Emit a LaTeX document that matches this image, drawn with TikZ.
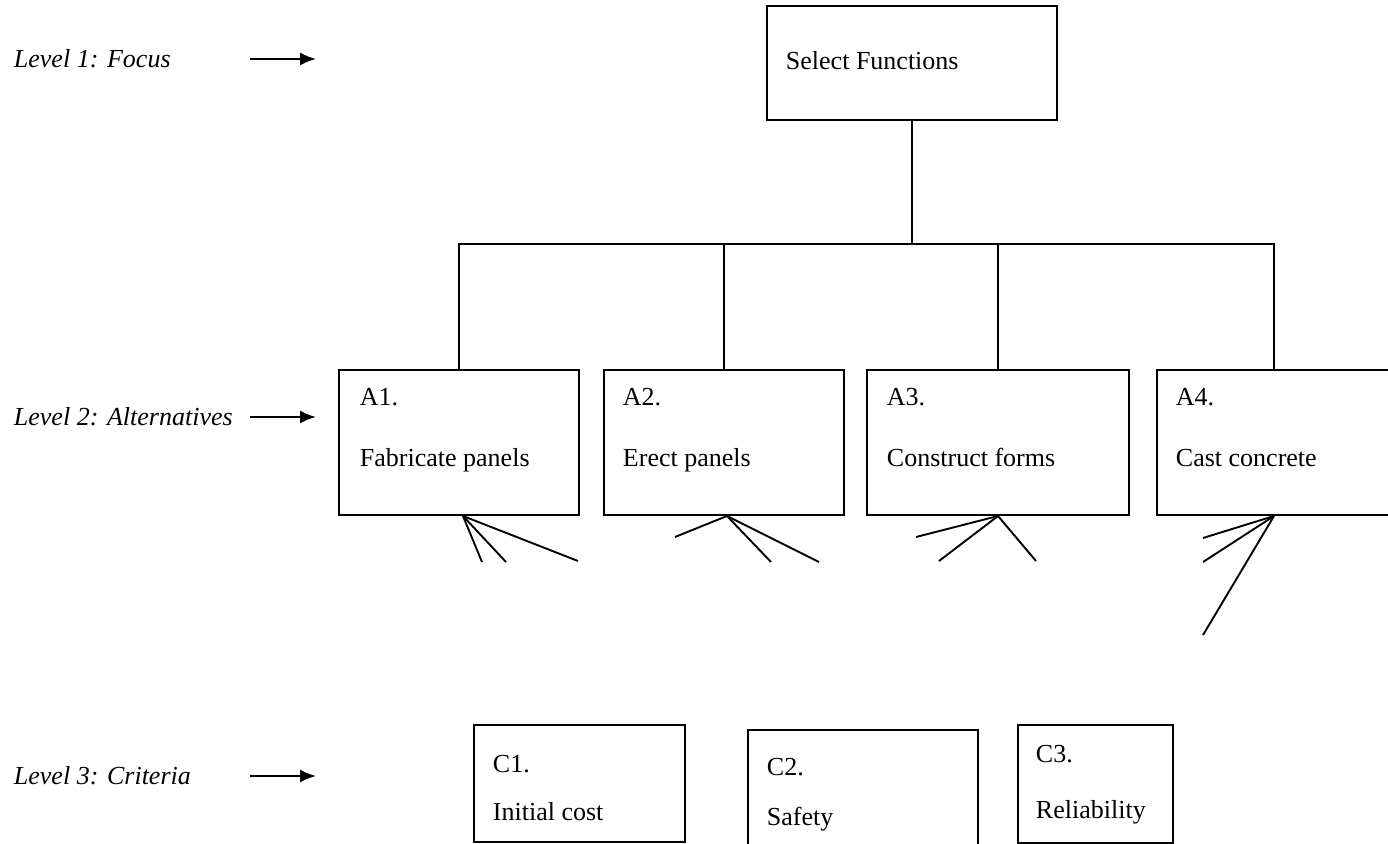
\documentclass[tikz,border=0pt]{standalone}
\usepackage{fontspec}
\setmainfont{Liberation Serif}
\usetikzlibrary{arrows.meta}
\begin{document}
\begin{tikzpicture}[x=1pt,y=-1pt,
  line width=1.9pt,
  box/.style={draw, line width=2pt, anchor=north west, inner sep=0pt, minimum width=#1},
  box/.default=240pt,
  txt/.style={anchor=base west, inner sep=0pt, font=\fontsize{26}{30}\selectfont},
  lvl/.style={anchor=base west, inner sep=0pt, font=\fontsize{26}{30}\selectfont\itshape},
  pointer/.style={line width=2pt, -{Latex[length=16pt,width=13pt]}}]
\path[use as bounding box, clip] (0,0) rectangle (1388,843);

% level captions with their arrows
\node[lvl] (l1) at (13,67) {Level 1: Focus};
\node[lvl] (l2) at (13,425) {Level 2: Alternatives};
\node[lvl] (l3) at (13,784) {Level 3: Criteria};
\coordinate (p1s) at (250,59);  \coordinate (p1e) at (316,59);
\coordinate (p2s) at (250,417); \coordinate (p2e) at (316,417);
\coordinate (p3s) at (250,776); \coordinate (p3e) at (316,776);
\draw[pointer] (p1s) -- (p1e);
\draw[pointer] (p2s) -- (p2e);
\draw[pointer] (p3s) -- (p3e);

% focus
\node[box=290pt, minimum height=114pt] (sf) at (766,5) {};
\node[txt] (sft) at (785,70) {Select Functions};

% alternatives
\node[box=240pt, minimum height=145pt] (a1) at (338,369) {};
\node[box=240pt, minimum height=145pt] (a2) at (603,369) {};
\node[box=262pt, minimum height=145pt] (a3) at (866,369) {};
\node[box=234pt, minimum height=145pt] (a4) at (1156,369) {};
\node[txt] (a1n) at (359,405) {A1.};
\node[txt] (a1t) at (359,466) {Fabricate panels};
\node[txt] (a2n) at (622,405) {A2.};
\node[txt] (a2t) at (622,466) {Erect panels};
\node[txt] (a3n) at (886,405) {A3.};
\node[txt] (a3t) at (886,466) {Construct forms};
\node[txt] (a4n) at (1175,405) {A4.};
\node[txt] (a4t) at (1175,466) {Cast concrete};

% criteria
\node[box=211pt, minimum height=117pt] (c1) at (473,724) {};
\node[box=230pt, minimum height=130pt] (c2) at (747,729) {};
\node[box=155pt, minimum height=118pt] (c3) at (1017,724) {};
\node[txt] (c1n) at (492,772) {C1.};
\node[txt] (c1t) at (492,820) {Initial cost};
\node[txt] (c2n) at (766,775) {C2.};
\node[txt] (c2t) at (766,825) {Safety};
\node[txt] (c3n) at (1035,762) {C3.};
\node[txt] (c3t) at (1035,818) {Reliability};

% tree from the focus to the alternatives
\coordinate (bus) at (0,244);
\draw (sf.south) -- (sf.south |- bus);
\draw (a1.north) -- (a1.north |- bus) -- (a4.north |- bus) -- (a4.north);
\draw (a2.north) -- (a2.north |- bus);
\draw (a3.north) -- (a3.north |- bus);

% fans of links below the alternatives
\coordinate (f1a) at (482,562); \coordinate (f1b) at (506,562); \coordinate (f1c) at (578,561);
\coordinate (f2a) at (675,537); \coordinate (f2b) at (771,562); \coordinate (f2c) at (819,562);
\coordinate (f3a) at (916,537); \coordinate (f3b) at (939,561); \coordinate (f3c) at (1036,561);
\coordinate (f4a) at (1203,538); \coordinate (f4b) at (1203,562); \coordinate (f4c) at (1203,635);
\foreach \e in {f1a,f1b,f1c} \draw ([xshift=4pt]a1.south) -- (\e);
\foreach \e in {f2a,f2b,f2c} \draw ([xshift=3pt]a2.south) -- (\e);
\foreach \e in {f3a,f3b,f3c} \draw (a3.south) -- (\e);
\foreach \e in {f4a,f4b,f4c} \draw (a4.south) -- (\e);
\end{tikzpicture}
\end{document}
